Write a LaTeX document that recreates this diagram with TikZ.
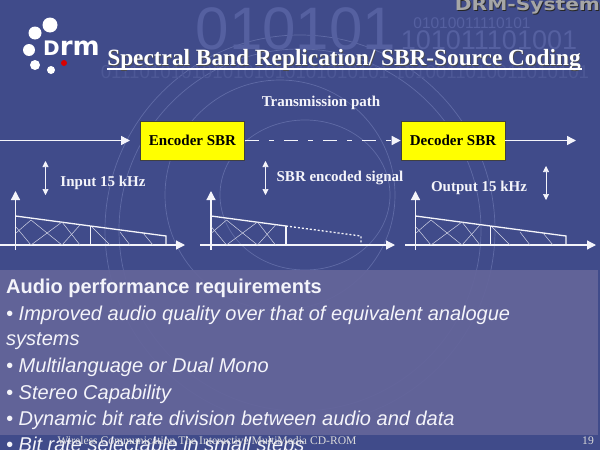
\documentclass[tikz,border=0pt]{standalone}
\usepackage{fontspec}
\setmainfont{Liberation Serif}
\setsansfont{Liberation Sans}
\newfontfamily\logofont{DejaVu Sans}
\usetikzlibrary{arrows.meta}
\definecolor{slidebg}{HTML}{404B8A}
\definecolor{panelbg}{HTML}{64659A}
\definecolor{mark}{HTML}{5560A0}
\definecolor{faintmark}{HTML}{4D5896}
\definecolor{ring}{HTML}{606BA6}
\definecolor{linew}{HTML}{F4F4FA}
\definecolor{sbrbox}{HTML}{FFFF00}
\tikzset{
  sbrnode/.style={draw=black!75, fill=sbrbox, line width=0.6pt, minimum width=104pt, minimum height=39pt, inner sep=0pt, text=black, font=\rmfamily\bfseries\fontsize{15}{17}\selectfont},
  lbl/.style={text=linew, inner sep=0pt, font=\rmfamily\bfseries\fontsize{15}{17}\selectfont},
  flow/.style={draw=linew, line width=1.5pt, -{Triangle[length=9pt,width=9pt]}},
  scalearrow/.style={draw=linew, line width=0.6pt, {Triangle[length=6pt,width=6pt]}-{Triangle[length=6pt,width=6pt]}},
  axis/.style={draw=linew, line width=1.2pt, -{Triangle[length=9pt,width=9pt]}},
  edge/.style={draw=linew, line width=1.3pt},
  hatch/.style={draw=linew!80!slidebg, line width=0.5pt},
  reqline/.style={anchor=west, text=linew, inner sep=0pt, font=\sffamily\itshape\fontsize{20}{22}\selectfont},
  wmark/.style={text=mark, inner sep=0pt, font=\sffamily},
  logodot/.style={circle, fill=white, inner sep=0pt}
}
\begin{document}
\begin{tikzpicture}[x=1pt,y=-1pt]
\useasboundingbox (0,0) rectangle (600,450);
\clip (0,0) rectangle (600,450);
\fill[slidebg] (0,0) rectangle (600,450);

% background
\draw[ring, line width=0.7pt] (300,230) circle (195);
\draw[ring, line width=0.7pt] (300,230) circle (181);
\draw[ring, line width=0.7pt] (280,195) circle (115);
\draw[ring, line width=0.7pt] (305,195) ellipse (85 and 75);
\node[wmark, font=\sffamily\fontsize{60}{60}\selectfont] (bigbits) at (296,29) {010101};
\node[wmark, font=\sffamily\fontsize{15.5}{16}\selectfont] (smallbits) at (472,23) {01010011110101};
\node[wmark, font=\sffamily\fontsize{27}{28}\selectfont] (midbits) at (489,40) {101011101001};
\node[wmark, text=faintmark, font=\sffamily\fontsize{18.7}{19}\selectfont] (rowbits) at (345,72) {0111010101010101010101010101 1010011010011010101};

% logo
\node[logodot, minimum size=15pt] (d1) at (50,25) {};
\node[logodot, minimum size=13pt] (d2) at (35,33) {};
\node[logodot, minimum size=12pt] (d3) at (29,50) {};
\node[logodot, minimum size=10pt] (d4) at (35,65) {};
\node[logodot, minimum size=8pt] (d5) at (51,70) {};
\node[logodot, fill=red!85!black, minimum size=6pt] (d6) at (64,63) {};
\node[text=white, inner sep=0pt, anchor=west, font=\logofont\bfseries\fontsize{26}{26}\selectfont] (drm) at (43,48) {{\fontsize{20}{20}\selectfont D}rm};

\node[text=black!85, inner sep=0pt, font=\logofont\bfseries\fontsize{17}{17}\selectfont, xscale=1.19] (sys0) at (528.4,6.6) {DRM-System};
\node[text=black!35, inner sep=0pt, font=\logofont\bfseries\fontsize{17}{17}\selectfont, xscale=1.19] (sys) at (527.5,6) {DRM-System};

% title
\node[text=black!70, inner sep=0pt, font=\rmfamily\bfseries\fontsize{23.3}{26}\selectfont] (title0) at (344.7,60.7) {Spectral Band Replication/ SBR-Source Coding};
\node[text=white, inner sep=0pt, font=\rmfamily\bfseries\fontsize{23.3}{26}\selectfont] (title) at (344,60) {Spectral Band Replication/ SBR-Source Coding};
\coordinate (ulstart) at (107,69);
\coordinate (ulend) at (582,69);
\draw[white, line width=1.6pt] (ulstart) -- (ulend);

% signal path
\node[lbl] (path) at (321,103) {Transmission path};
\node[sbrnode] (enc) at (192.5,140.5) {Encoder SBR};
\node[sbrnode] (dec) at (453,140.5) {Decoder SBR};
\coordinate (in) at (0,140.5);
\coordinate (out) at (576,140.5);
\draw[flow] (in) -- (130,140.5);
\draw[flow] (dec) -- (out);
\draw[flow, dash pattern=on 14pt off 10pt on 5pt off 10pt] (enc) -- (dec);

% spectra
\foreach \gx/\gstart/\gend in {0/0/185, 195.5/4.5/199.5, 400/5/196} {
\begin{scope}[shift={(\gx,0)}]
\coordinate (ybot) at (15.5,250);
\coordinate (ytop) at (15.5,191);
\coordinate (xleft) at (\gstart,245);
\coordinate (xright) at (\gend,245);
\draw[axis] (ybot) -- (ytop);
\draw[axis] (xleft) -- (xright);
\draw[edge] (15.5,216) -- (90.5,226);
\draw[edge] (90.5,226) -- (90.5,245);
\draw[hatch] (16,233) -- (31,220) (31,245) -- (62,222) (62,245) -- (80,225);
\draw[hatch] (16,227) -- (31,245) (31,220) -- (62,245) (62,222) -- (80,245);
\end{scope}
}
\foreach \gx in {0,400} {
\begin{scope}[shift={(\gx,0)}]
\draw[edge] (90.5,226) -- (166,236) -- (166,245);
\draw[hatch] (92,227) -- (110,245) (120,232) -- (130,245) (143,233) -- (153,245);
\end{scope}
}
\draw[edge, dash pattern=on 2pt off 2pt] (286,226) -- (361,236) -- (361,245);

% scale arrows and labels
\coordinate (s1a) at (45.5,161);
\coordinate (s1b) at (45.5,195);
\coordinate (s2a) at (265.5,161);
\coordinate (s2b) at (265.5,195);
\coordinate (s3a) at (546,166);
\coordinate (s3b) at (546,200);
\draw[scalearrow] (s1a) -- (s1b);
\draw[scalearrow] (s2a) -- (s2b);
\draw[scalearrow] (s3a) -- (s3b);
\node[lbl] (inlbl) at (103,183) {Input 15 kHz};
\node[lbl] (sbrlbl) at (340,178) {SBR encoded signal};
\node[lbl] (outlbl) at (479,188) {Output 15 kHz};

% panel
\fill[panelbg, fill opacity=0.93] (0,270) rectangle (598,435);
\node[reqline, font=\sffamily\bfseries\fontsize{20}{22}\selectfont] (req0) at (6,288) {Audio performance requirements};
\node[reqline] (req1) at (6,315) {• Improved audio quality over that of equivalent analogue};
\node[reqline] (req2) at (6,341) {systems};
\node[reqline] (req3) at (6,367) {• Multilanguage or Dual Mono};
\node[reqline] (req4) at (6,394) {• Stereo Capability};
\node[reqline] (req5) at (6,420) {• Dynamic bit rate division between audio and data};
\node[reqline] (req6) at (6,446) {• Bit rate selectable in small steps};

% footer
\node[text=black!15, inner sep=0pt, font=\rmfamily\fontsize{11.6}{13}\selectfont] (foot) at (207,441) {Wireless Communication The Interactive MultiMedia CD-ROM};
\node[text=black!15, inner sep=0pt, font=\rmfamily\fontsize{11.6}{13}\selectfont] (page) at (588,441) {19};
\end{tikzpicture}
\end{document}
